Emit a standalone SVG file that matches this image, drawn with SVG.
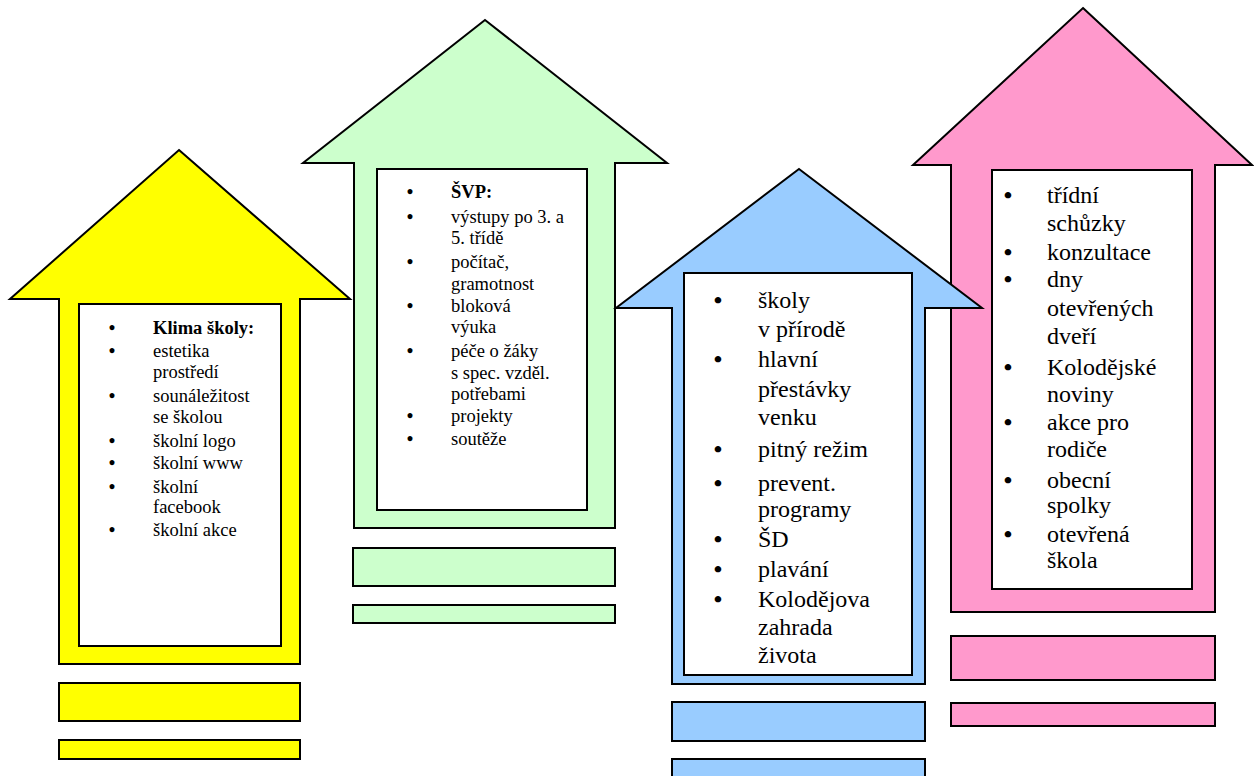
<svg xmlns="http://www.w3.org/2000/svg" width="1254" height="776" viewBox="0 0 1254 776">
<style>
.a{stroke:#000;stroke-width:2;stroke-linejoin:miter}
.box{fill:#fff;stroke:#000;stroke-width:2}
.y{fill:#FFFF00}.g{fill:#CCFFCC}.b{fill:#99CCFF}.p{fill:#FF99CC}
.s{font-family:"Liberation Serif","Times New Roman",serif;font-size:18.5px;fill:#000}
.l{font-family:"Liberation Serif","Times New Roman",serif;font-size:24px;fill:#000}
.bold{font-weight:bold}
.bu{text-anchor:middle;font-weight:bold}
</style>
<rect width="1254" height="776" fill="#fff"/>
<g id="connectors"/>
<g id="arrow-yellow">
<polygon class="a y" points="179,150 350,299 300,299 300,664 59,664 59,299 10,299"/>
<rect class="box" x="79" y="304" width="202" height="342"/>
<rect class="a y" x="59" y="683" width="241" height="38"/>
<rect class="a y" x="59" y="740" width="241" height="19"/>
<g class="s">
<text x="112" y="334" class="bu">•</text><text x="153" y="334" class="bold">Klima školy:</text>
<text x="112" y="357" class="bu">•</text><text x="153" y="357">estetika</text>
<text x="153" y="378">prostředí</text>
<text x="112" y="402" class="bu">•</text><text x="153" y="402">sounáležitost</text>
<text x="153" y="423">se školou</text>
<text x="112" y="447" class="bu">•</text><text x="153" y="447">školní logo</text>
<text x="112" y="469" class="bu">•</text><text x="153" y="469">školní www</text>
<text x="112" y="493" class="bu">•</text><text x="153" y="493">školní</text>
<text x="153" y="513">facebook</text>
<text x="112" y="536" class="bu">•</text><text x="153" y="536">školní akce</text>
</g>
</g>
<g id="arrow-green">
<polygon class="a g" points="485,20 667,163 615,163 615,528 354,528 354,163 303,163"/>
<rect class="box" x="377" y="169" width="210" height="341"/>
<rect class="a g" x="353" y="548" width="262" height="38"/>
<rect class="a g" x="353" y="605" width="262" height="18"/>
<g class="s">
<text x="410" y="198" class="bu">•</text><text x="451" y="198" class="bold">ŠVP:</text>
<text x="410" y="223" class="bu">•</text><text x="451" y="223">výstupy po 3. a</text>
<text x="451" y="244">5. třídě</text>
<text x="410" y="268" class="bu">•</text><text x="451" y="268">počítač,</text>
<text x="451" y="290">gramotnost</text>
<text x="410" y="312" class="bu">•</text><text x="451" y="312">bloková</text>
<text x="451" y="333">výuka</text>
<text x="410" y="357" class="bu">•</text><text x="451" y="357">péče o žáky</text>
<text x="451" y="379">s spec. vzděl.</text>
<text x="451" y="400">potřebami</text>
<text x="410" y="422" class="bu">•</text><text x="451" y="422">projekty</text>
<text x="410" y="445" class="bu">•</text><text x="451" y="445">soutěže</text>
</g>
</g>
<g id="arrow-pink">
<polygon class="a p" points="1083,8 1252,165 1215,165 1215,612 951,612 951,165 913,165"/>
<rect class="box" x="992" y="170" width="200" height="419"/>
<rect class="a p" x="951" y="636" width="264" height="44"/>
<rect class="a p" x="951" y="703" width="264" height="23"/>
<g class="l">
<text x="1008" y="203" class="bu">•</text><text x="1047" y="203">třídní</text>
<text x="1047" y="231">schůzky</text>
<text x="1008" y="260" class="bu">•</text><text x="1047" y="260">konzultace</text>
<text x="1008" y="287" class="bu">•</text><text x="1047" y="287">dny</text>
<text x="1047" y="316">otevřených</text>
<text x="1047" y="344">dveří</text>
<text x="1008" y="375" class="bu">•</text><text x="1047" y="375">Kolodějské</text>
<text x="1047" y="402">noviny</text>
<text x="1008" y="430" class="bu">•</text><text x="1047" y="430">akce pro</text>
<text x="1047" y="457">rodiče</text>
<text x="1008" y="488" class="bu">•</text><text x="1047" y="488">obecní</text>
<text x="1047" y="513">spolky</text>
<text x="1008" y="542" class="bu">•</text><text x="1047" y="542">otevřená</text>
<text x="1047" y="568">škola</text>
</g>
</g>
<g id="arrow-blue">
<polygon class="a b" points="799,169 982,308 925,308 925,684 672,684 672,308 616,308"/>
<rect class="box" x="684" y="273" width="228" height="402"/>
<rect class="a b" x="672" y="702" width="253" height="39"/>
<rect class="a b" x="672" y="759" width="253" height="42"/>
<g class="l">
<text x="718" y="308" class="bu">•</text><text x="758" y="308">školy</text>
<text x="758" y="337">v přírodě</text>
<text x="718" y="367" class="bu">•</text><text x="758" y="367">hlavní</text>
<text x="758" y="397">přestávky</text>
<text x="758" y="425">venku</text>
<text x="718" y="457" class="bu">•</text><text x="758" y="457">pitný režim</text>
<text x="718" y="491" class="bu">•</text><text x="758" y="491">prevent.</text>
<text x="758" y="517">programy</text>
<text x="718" y="547" class="bu">•</text><text x="758" y="547">ŠD</text>
<text x="718" y="577" class="bu">•</text><text x="758" y="577">plavání</text>
<text x="718" y="607" class="bu">•</text><text x="758" y="607">Kolodějova</text>
<text x="758" y="635">zahrada</text>
<text x="758" y="663">života</text>
</g>
</g>
</svg>
